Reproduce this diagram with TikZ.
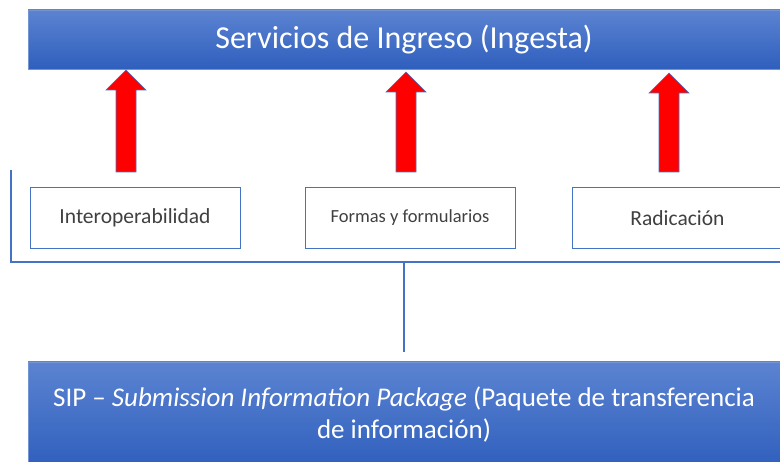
\documentclass[tikz,border=0pt]{standalone}
\usepackage{fontspec}
\setmainfont{Carlito}
\usetikzlibrary{positioning}
\definecolor{barTop}{HTML}{5B83D1}
\definecolor{barBot}{HTML}{2F5FBD}
\definecolor{lineBlue}{HTML}{4472C4}
\definecolor{boxText}{HTML}{404040}

\begin{document}
\begin{tikzpicture}[x=1pt, y=-1pt,
  bar/.style={minimum width=752pt, inner sep=0pt, top color=barTop, bottom color=barBot,
    draw=lineBlue!75, line width=0.6pt, text=white, align=center},
  box/.style={draw=lineBlue, line width=0.8pt, minimum width=210pt, minimum height=61pt,
    inner sep=0pt, text=boxText, font=\fontsize{21.5}{25}\selectfont}]
\useasboundingbox (0,0) rectangle (780,462);
\node[bar, minimum height=59pt, text height=24pt, text depth=5.4pt,
  font=\fontsize{32}{38}\selectfont] (ingesta) at (404,39.5) {Servicios de Ingreso (Ingesta)};
\node[box] (interop) at (135,218) {Interoperabilidad};
\node[box, font=\fontsize{18.5}{22}\selectfont] (formas) at (410,218) {Formas y formularios};
\node[box] (radica) at (677.5,218) {Radicación};
\node[bar, minimum height=106pt, font=\fontsize{27}{32}\selectfont] (sip) at (404,415)
  {SIP -- \textit{Submission Information Package} (Paquete de transferencia\\de información)};
% bracket joining the three inputs
\coordinate (brk) at (404,262);
\draw[lineBlue, line width=1.5pt] (11,170) |- (780,262);
\draw[lineBlue, line width=1.5pt] (brk) -- ([yshift=10pt]sip.north);
% red block arrows into the ingest services
\foreach \ax/\tip in {126/70, 406/72, 669/73}
  \draw[lineBlue, line width=0.6pt, fill=red] (\ax-10,172) -- (\ax-10,\tip+20) -- (\ax-20,\tip+20)
    -- (\ax,\tip) -- (\ax+20,\tip+20) -- (\ax+10,\tip+20) -- (\ax+10,172) -- cycle;
\end{tikzpicture}
\end{document}
